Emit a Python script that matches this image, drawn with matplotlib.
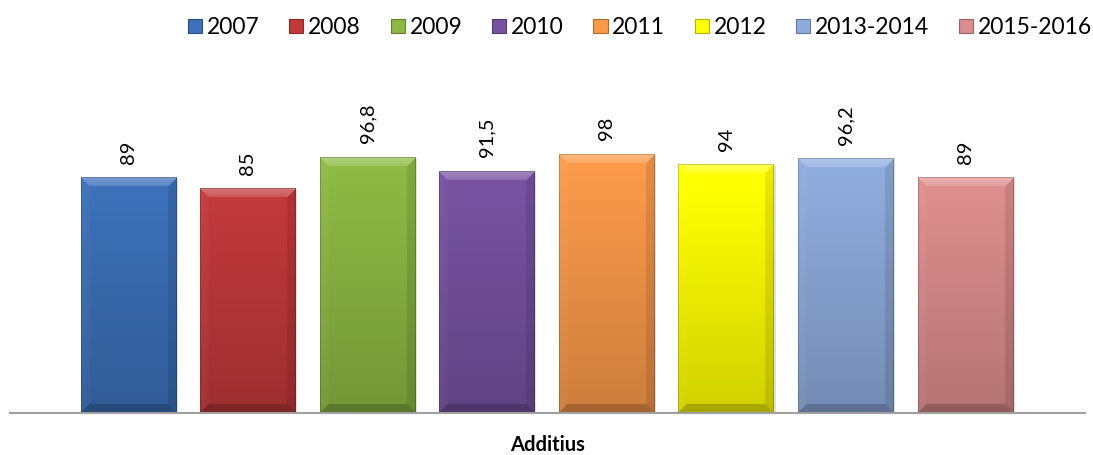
import numpy as np
import matplotlib
matplotlib.use("Agg")
import matplotlib.pyplot as plt
from matplotlib.patches import Patch
from matplotlib.colors import to_rgb

# ---- data ----
series = ["2007", "2008", "2009", "2010", "2011", "2012", "2013-2014", "2015-2016"]
values = [89, 85, 96.8, 91.5, 98, 94, 96.2, 89]
category = "Additius"
colors = ["#3C70B8", "#C0393B", "#8DB843", "#7652A0", "#F9994A", "#FFFF00", "#8EABDC", "#DC8D8D"]

plt.rcParams["font.family"] = ["Lato", "DejaVu Sans"]

W, H = 1093, 455
fig = plt.figure(figsize=(W / 100, H / 100), dpi=100)
ax = fig.add_axes([10 / W, (H - 413) / H, (1085 - 10) / W, (413 - 96) / H])

bar_w = 0.8
xs = np.arange(len(values))
XLIM = (-0.99, 8.0)
YLIM = (0, 120)
ax.set_xlim(*XLIM)
ax.set_ylim(*YLIM)


def bevel_image(color, wpx, hpx, bevel=9):
    """RGBA image of a bevelled, vertically shaded bar face."""
    base = np.array(to_rgb(color))
    hp, wp = max(int(round(hpx)), 2), max(int(round(wpx)), 2)
    r = np.arange(hp)[:, None] * np.ones((1, wp))
    c = np.ones((hp, 1)) * np.arange(wp)[None, :]
    # vertical gradient: slightly lighter at top, darker at bottom
    t = r / (hp - 1)
    shade = 1.02 - 0.2 * t
    img = base[None, None, :] * shade[:, :, None]
    dt, db, dl, dr = r, hp - 1 - r, c, wp - 1 - c
    d = np.stack([dt, db, dl, dr])
    edge = np.argmin(d, axis=0)
    dmin = np.min(d, axis=0)
    inb = dmin < bevel
    white = np.ones(3)
    # top bevel lighter, sides a touch darker, bottom darker
    adj = {0: ("w", 0.3), 1: ("k", 0.2), 2: ("w", 0.04), 3: ("k", 0.1)}
    for k, (kind, amt) in adj.items():
        m = inb & (edge == k)
        if kind == "w":
            # fade the highlight toward the inner edge of the bevel
            f = amt * (1 - 0.5 * dmin[m] / bevel)[:, None]
            img[m] = img[m] * (1 - f) + white * f
        else:
            img[m] = img[m] * (1 - amt)
    # thin outline
    outline = dmin < 1
    img[outline] = img[outline] * 0.8
    return np.clip(img, 0, 1)


fig.canvas.draw()
to_px = ax.transData
for x, v, col in zip(xs, values, colors):
    x0, x1 = x - bar_w / 2, x + bar_w / 2
    p0 = to_px.transform((x0, 0))
    p1 = to_px.transform((x1, v))
    wpx, hpx = p1[0] - p0[0], p1[1] - p0[1]
    # soft shadow
    ax.bar(x + 0.012, v, width=bar_w, bottom=-0.6, color="#000000", alpha=0.12,
           zorder=2, linewidth=0)
    ax.bar(x, v, width=bar_w, color=col, linewidth=0, zorder=3)
    ax.imshow(bevel_image(col, wpx, hpx), extent=[x0, x1, 0, v], aspect="auto",
              zorder=4, interpolation="bilinear")
    label = ("%g" % v).replace(".", ",")
    ax.annotate(label, (x, v), xytext=(0, 10), textcoords="offset points",
                rotation=90, ha="center", va="bottom", fontsize=14.5, color="black")

ax.set_xlim(*XLIM)
ax.set_ylim(*YLIM)
ax.set_xticks([])
ax.set_yticks([])
for s in ["top", "left", "right"]:
    ax.spines[s].set_visible(False)
ax.spines["bottom"].set_color("#A0A0A0")
ax.spines["bottom"].set_linewidth(1.5)
ax.spines["bottom"].set_zorder(5)

fig.text(548 / W, (H - 445) / H, category, ha="center", va="center",
         fontsize=14.5, fontweight="bold")

handles = [Patch(facecolor=c, edgecolor=tuple(np.array(to_rgb(c)) * 0.7), linewidth=0.8)
           for c in colors]
fig.legend(handles, series, loc="upper right", bbox_to_anchor=(1108 / W, 1.0 - 1 / H),
           ncol=len(series), frameon=False, fontsize=16.5, handlelength=0.62,
           handleheight=0.62, handletextpad=0.2, columnspacing=1.3, borderpad=0.2)

fig.savefig("out.png", dpi=100)
